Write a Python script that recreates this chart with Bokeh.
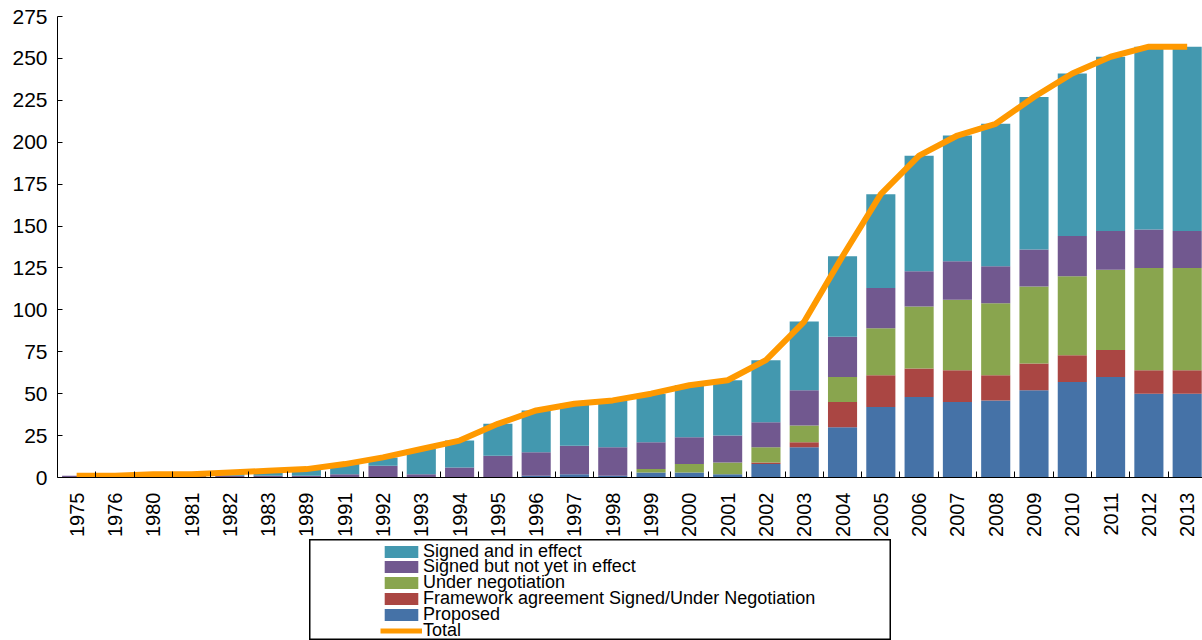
import math

from bokeh.embed import file_html
from bokeh.layouts import column, row
from bokeh.models import (ColumnDataSource, FixedTicker, Legend, LegendItem,
                          Range1d, Spacer)
from bokeh.plotting import figure
from bokeh.resources import INLINE

# Free trade agreements by status, per year
years = ["1975", "1976", "1980", "1981", "1982", "1983", "1989", "1991",
         "1992", "1993", "1994", "1995", "1996", "1997", "1998", "1999",
         "2000", "2001", "2002", "2003", "2004", "2005", "2006", "2007",
         "2008", "2009", "2010", "2011", "2012", "2013"]

proposed = [0, 0, 0, 0, 0, 0, 0, 0, 0, 0, 0, 0, 1, 2, 1, 3, 3, 2, 8, 18,
            30, 42, 48, 45, 46, 52, 57, 60, 50, 50]
framework = [0, 0, 0, 0, 0, 0, 0, 0, 0, 0, 0, 0, 0, 0, 0, 0, 0, 0, 1, 3,
             15, 19, 17, 19, 15, 16, 16, 16, 14, 14]
negotiation = [0, 0, 0, 0, 0, 0, 0, 0, 0, 0, 0, 0, 0, 0, 0, 2, 5, 7, 9, 10,
               15, 28, 37, 42, 43, 46, 47, 48, 61, 61]
signed_pending = [1, 1, 1, 1, 1, 1, 1, 2, 7, 2, 6, 13, 14, 17, 17, 16, 16, 16,
                  15, 21, 24, 24, 21, 23, 22, 22, 24, 23, 23, 22]
signed_effect = [0, 0, 1, 1, 2, 3, 4, 6, 5, 15, 16, 19, 25, 25, 28, 29, 31, 33,
                 37, 41, 48, 56, 69, 75, 85, 91, 97, 104, 109, 110]
total = [1, 1, 2, 2, 3, 4, 5, 8, 12, 17, 22, 32, 40, 44, 46, 50, 55, 58, 70,
         93, 132, 169, 192, 204, 211, 227, 241, 251, 257, 257]

series_labels = ["Proposed", "Framework agreement Signed/Under Negotiation",
                 "Under negotiation", "Signed but not yet in effect",
                 "Signed and in effect"]
total_label = "Total"

stack_cols = ["proposed", "framework", "negotiation", "signed_pending",
              "signed_effect"]
stack_colors = ["#4572A7", "#AA4643", "#89A54E", "#71588F", "#4398AF"]
line_color = "#FF9900"
font = "Liberation Sans"

src = ColumnDataSource(dict(
    x=list(range(len(years))),
    proposed=proposed,
    framework=framework,
    negotiation=negotiation,
    signed_pending=signed_pending,
    signed_effect=signed_effect,
    total=total,
))

# ---- main chart -------------------------------------------------------
p = figure(width=1202, height=539,
           x_range=Range1d(-0.5, 29.4), y_range=Range1d(0, 275),
           output_backend="svg", toolbar_location=None,
           min_border_left=57, min_border_right=0,
           min_border_top=16, min_border_bottom=62)

p.vbar_stack(stack_cols, x="x", width=0.76, fill_color=stack_colors,
             line_color=None, source=src)
p.line("x", "total", source=src, line_color=line_color, line_width=6)

p.grid.visible = False
p.outline_line_color = None

xa = p.xaxis[0]
xa.ticker = FixedTicker(ticks=list(range(len(years))),
                        minor_ticks=[i + 0.5 for i in range(len(years) - 1)])
xa.major_label_overrides = {i: y for i, y in enumerate(years)}
xa.major_label_orientation = math.pi / 2
xa.major_tick_in = 0
xa.major_tick_out = 0
xa.minor_tick_in = 6
xa.minor_tick_out = 0
xa.minor_tick_line_color = "black"
xa.major_label_standoff = 15
xa.major_label_text_font = font
xa.major_label_text_font_size = "20px"
xa.major_label_text_color = "black"
xa.axis_line_color = "black"

ya = p.yaxis[0]
ya.ticker = FixedTicker(ticks=list(range(0, 276, 25)))
ya.major_tick_in = 5
ya.major_tick_out = 0
ya.minor_tick_in = 0
ya.minor_tick_out = 0
ya.major_label_standoff = 10
ya.major_label_text_font = font
ya.major_label_text_font_size = "21px"
ya.major_label_text_color = "black"
ya.axis_line_color = "black"

# ---- legend panel ------------------------------------------------------
# The key renderers share the data source; the ranges keep them out of view,
# so only their swatches appear in the legend.
leg_w, leg_h = 582, 101
leg = figure(width=leg_w, height=leg_h,
             x_range=Range1d(1000, 1001), y_range=Range1d(1000, 1001),
             output_backend="svg", toolbar_location=None,
             min_border=0, x_axis_location=None, y_axis_location=None,
             outline_line_color="black", outline_line_width=2)
leg.grid.visible = False

key_bars = leg.vbar_stack(stack_cols, x="x", width=0.76,
                          fill_color=stack_colors, line_color=None, source=src)
key_line = leg.line("x", "total", source=src, line_color=line_color,
                    line_width=5)

items = [LegendItem(label=series_labels[i], renderers=[key_bars[i]])
         for i in reversed(range(len(stack_cols)))]
items.append(LegendItem(label=total_label, renderers=[key_line]))

# One single-row legend per entry so the rows can sit closer together than
# the label font's own line box allows.
row_pitch = 15.8
first_row = 12.0
row_half = 10.5
for k, item in enumerate(items):
    y_bottom = leg_h - (first_row + row_pitch * k) - row_half
    lg = Legend(items=[item], location=(71, y_bottom), padding=0, margin=0,
                spacing=0, glyph_width=42, glyph_height=15, label_height=15,
                label_standoff=1, label_text_font=font,
                label_text_font_size="18px", label_text_color="black",
                border_line_alpha=0, background_fill_alpha=0)
    leg.add_layout(lg)

layout = column(p, row(Spacer(width=309, height=leg_h), leg))

open("out.html", "w").write(file_html(layout, INLINE))
